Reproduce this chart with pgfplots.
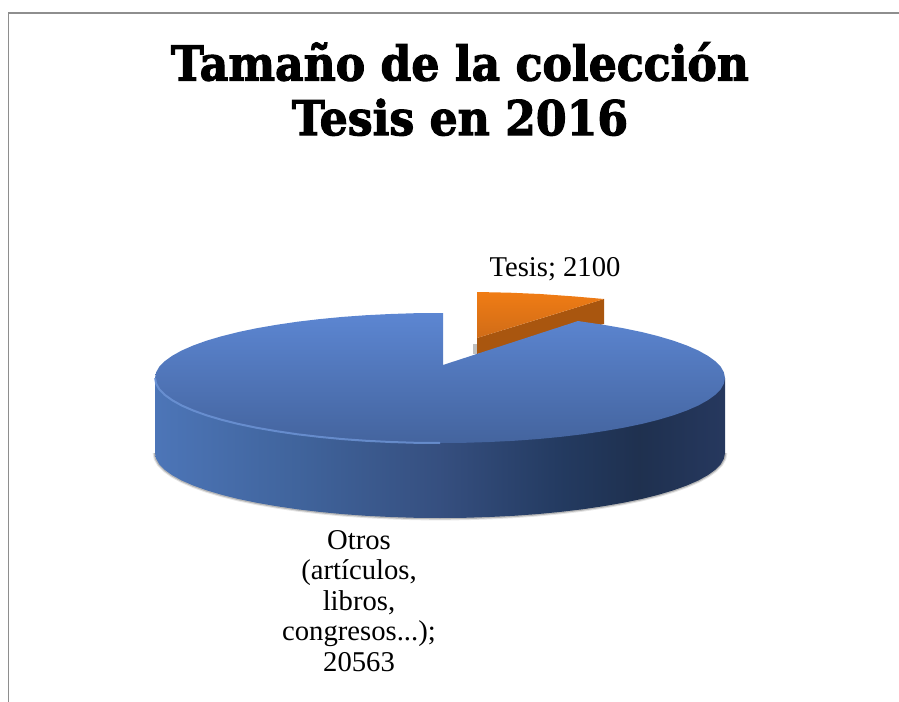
\documentclass[border=0pt]{standalone}
\usepackage{fontspec}
\setmainfont{Liberation Serif}
\newfontfamily\titlefont[BoldFeatures={FakeStretch=0.92,FakeBold=2.2}]{DejaVu Serif}
\usepackage{pgfplots}
\usepackage{pgfplotstable}
\pgfplotsset{compat=1.18}

\definecolor{frame}{HTML}{8E8E8E}
\definecolor{rim}{HTML}{6F96D8}
\definecolor{orangewall}{HTML}{A9560F}
\definecolor{orangetop}{HTML}{F07C14}
\definecolor{orangebot}{HTML}{D06C18}
\definecolor{bluetop}{HTML}{5C86D2}
\definecolor{bluebot}{HTML}{44649E}

% side wall of the big slice, light at left and dark at right
\pgfdeclarehorizontalshading{wallshade}{100bp}{
  rgb(0bp)=(0.30,0.46,0.72);
  rgb(25bp)=(0.30,0.46,0.72);
  rgb(37.7bp)=(0.25,0.39,0.61);
  rgb(50bp)=(0.21,0.31,0.50);
  rgb(60.5bp)=(0.14,0.23,0.38);
  rgb(67.5bp)=(0.12,0.19,0.31);
  rgb(75bp)=(0.15,0.22,0.37);
  rgb(100bp)=(0.15,0.22,0.37)}

% bottom edge of the wall
\pgfplotstableread{
x y
155 453
156.1 458.7
159.3 464.3
164.7 469.8
172.2 475.2
181.7 480.5
193.2 485.5
206.5 490.3
221.7 494.8
238.5 499
256.8 502.8
276.5 506.2
297.5 509.3
319.6 511.9
342.5 514.1
366.2 515.8
390.5 517
415.2 517.8
440 518
464.8 517.8
489.5 517
513.8 515.8
537.5 514.1
560.4 511.9
582.5 509.3
603.5 506.2
623.2 502.8
641.5 499
658.3 494.8
673.5 490.3
686.8 485.5
698.3 480.5
707.8 475.2
715.3 469.8
720.7 464.3
723.9 458.7
725 453
}\bottomarc

% wall polygon
\pgfplotstableread{
x y
155 378
155 453
156.1 458.7
159.3 464.3
164.7 469.8
172.2 475.2
181.7 480.5
193.2 485.5
206.5 490.3
221.7 494.8
238.5 499
256.8 502.8
276.5 506.2
297.5 509.3
319.6 511.9
342.5 514.1
366.2 515.8
390.5 517
415.2 517.8
440 518
464.8 517.8
489.5 517
513.8 515.8
537.5 514.1
560.4 511.9
582.5 509.3
603.5 506.2
623.2 502.8
641.5 499
658.3 494.8
673.5 490.3
686.8 485.5
698.3 480.5
707.8 475.2
715.3 469.8
720.7 464.3
723.9 458.7
725 453
725 378
}\wallpoly

% top face of Otros, notch for the pulled out slice
\pgfplotstableread{
x y
443 365
443 313
415.2 313.2
390.5 314
366.2 315.2
342.5 316.9
319.6 319.1
297.5 321.7
276.5 324.8
256.8 328.2
238.5 332
221.7 336.2
206.5 340.7
193.2 345.5
181.7 350.5
172.2 355.8
164.7 361.2
159.3 366.7
156.1 372.3
155 378
156.1 383.7
159.3 389.3
164.7 394.8
172.2 400.2
181.7 405.5
193.2 410.5
206.5 415.3
221.7 419.8
238.5 424
256.8 427.8
276.5 431.2
297.5 434.3
319.6 436.9
342.5 439.1
366.2 440.8
390.5 442
415.2 442.8
440 443
464.8 442.8
489.5 442
513.8 440.8
537.5 439.1
560.4 436.9
582.5 434.3
603.5 431.2
623.2 427.8
641.5 424
658.3 419.8
673.5 415.3
686.8 410.5
698.3 405.5
707.8 400.2
715.3 394.8
720.7 389.3
723.9 383.7
725 378
723.9 372.3
720.7 366.7
715.3 361.2
707.8 355.8
698.3 350.5
686.8 345.5
673.5 340.7
658.3 336.2
641.5 332
623.2 328.2
603.5 324.8
582.5 321.7
578 321
443 365
}\topface

% light rim on the left half
\pgfplotstableread{
x y
155 378
156.1 383.7
159.3 389.3
164.7 394.8
172.2 400.2
181.7 405.5
193.2 410.5
206.5 415.3
221.7 419.8
238.5 424
256.8 427.8
276.5 431.2
297.5 434.3
319.6 436.9
342.5 439.1
366.2 440.8
390.5 442
415.2 442.8
440 443
}\rimarc

\begin{document}
\begin{tikzpicture}
\begin{axis}[
  scale only axis,
  width=674.25pt, height=526.5pt,
  xmin=0, xmax=899, ymin=0, ymax=702,
  y dir=reverse,
  axis lines=none,
  clip=true,
  no markers,
]
% keeps the page as large as the whole canvas
\addplot[white,line width=0.1pt] coordinates {(0,0)(899,0)(899,702)(0,702)(0,0)};
% chart frame
\addplot[frame,line width=1.4pt] coordinates {(899,13)(8.5,13)(8.5,702)};

% Tesis slice
\addplot[fill=black!25,draw=none] coordinates {(473,344)(477,344)(477,354)(473,354)};
\addplot[fill=orangewall,draw=none] coordinates {(477,338)(604,299)(604,324)(477,354)};
\addplot[draw=none,top color=orangetop,bottom color=orangebot]
  coordinates {(477,292)(510,292.7)(540,294)(575,296.5)(604,299)(477,338)};

% soft shadow under the big slice
\addplot[draw=black,opacity=.1,line width=3.6pt] table[x=x,y=y] {\bottomarc};
\addplot[draw=black,opacity=.2,line width=2pt] table[x=x,y=y] {\bottomarc};

% Otros slice
\addplot[draw=none,shading=wallshade] table[x=x,y=y] {\wallpoly};
\addplot[draw=none,top color=bluetop,bottom color=bluebot]
  table[x=x,y=y] {\topface};
\addplot[rim,opacity=.8,line width=1.5pt] table[x=x,y=y] {\rimarc};

% title and labels
\node[align=center,font=\titlefont\bfseries\fontsize{36}{41}\selectfont] at (axis cs:460,89)
  {Tamaño de la colección\\Tesis en 2016};
\node[font=\fontsize{21.5}{25}\selectfont] at (axis cs:555,269) {Tesis; 2100};
\node[align=center,font=\fontsize{21.5}{22.9}\selectfont] at (axis cs:359,601)
  {Otros\\(artículos,\\libros,\\congresos...);\\20563};
\end{axis}
\end{tikzpicture}
\end{document}
